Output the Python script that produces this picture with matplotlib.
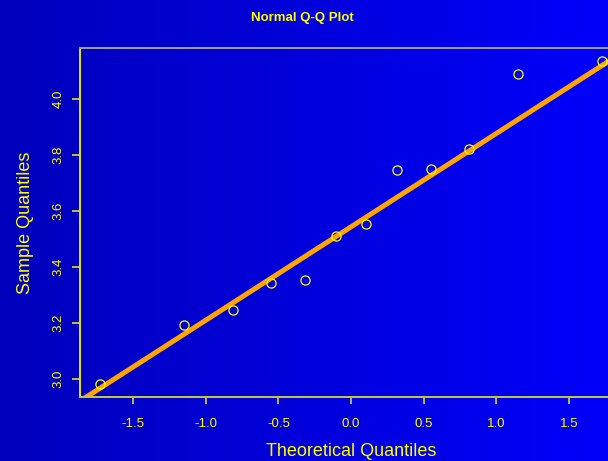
import numpy as np
import matplotlib
matplotlib.use("Agg")
import matplotlib.pyplot as plt

# theoretical normal quantiles (n = 12) and the observed sample values
theoretical = [-1.73, -1.15, -0.81, -0.55, -0.32, -0.10, 0.10, 0.32, 0.55, 0.81, 1.15, 1.73]
sample = [2.982, 3.192, 3.245, 3.342, 3.352, 3.510, 3.552, 3.745, 3.749, 3.821, 4.089, 4.134]
x_ticks = [-1.5, -1.0, -0.5, 0.0, 0.5, 1.0, 1.5]
y_ticks = [3.0, 3.2, 3.4, 3.6, 3.8, 4.0]

YELLOW = "#ffff00"
plt.rcParams["font.family"] = ["Liberation Sans", "DejaVu Sans"]

fig = plt.figure(figsize=(6.08, 4.61), dpi=100)

# horizontal blue gradient behind everything
bg = fig.add_axes([0, 0, 1, 1], zorder=0)
grad = np.linspace(0, 1, 256).reshape(1, -1)
cmap = matplotlib.colors.LinearSegmentedColormap.from_list("bg", ["#0000bc", "#0000fa"])
bg.imshow(grad, aspect="auto", cmap=cmap, extent=[0, 1, 0, 1])
bg.set_axis_off()

# plot region runs off the right edge like the reference
ax = fig.add_axes([79.5 / 608, 64 / 461, 543 / 608, 349 / 461], zorder=1)
ax.patch.set_alpha(0)

ax.plot(theoretical, sample, linestyle="none", marker="o", markersize=6.6,
        markerfacecolor="none", markeredgecolor=YELLOW, markeredgewidth=0.9, zorder=3)

# qqline through the first and third quartiles
q_y = np.quantile(sample, [0.25, 0.75])
q_x = np.array([-0.6745, 0.6745])
slope = (q_y[1] - q_y[0]) / (q_x[1] - q_x[0])
intercept = q_y[0] - slope * q_x[0]
ax.axline((0, intercept), slope=slope, color="#ffa500", linewidth=3.6, zorder=2)

# R style 4% padding
xr = max(theoretical) - min(theoretical)
yr = max(sample) - min(sample)
ax.set_xlim(min(theoretical) - 0.04 * xr, max(theoretical) + 0.04 * xr)
ax.set_ylim(min(sample) - 0.04 * yr, max(sample) + 0.04 * yr)

ax.set_xticks(x_ticks)
ax.set_xticklabels([f"{v:.1f}" for v in x_ticks])
ax.set_yticks(y_ticks)
ax.set_yticklabels([f"{v:.1f}" for v in y_ticks], rotation=90, va="center")

ax.tick_params(axis="x", colors="#d8d830", labelcolor=YELLOW, length=5, width=1.2,
               pad=10, labelsize=9.5)
ax.tick_params(axis="y", colors="#e0e020", labelcolor=YELLOW, length=6, width=1.2,
               pad=4.5, labelsize=9.5)

ax.spines["right"].set_visible(False)
ax.spines["top"].set_color("#a0a0a0")
ax.spines["left"].set_color("#e8e800")
ax.spines["bottom"].set_color("#c8c83c")
for s in ["top", "left", "bottom"]:
    ax.spines[s].set_linewidth(1.4)

ax.set_xlabel("Theoretical Quantiles", color=YELLOW, fontsize=13)
ax.xaxis.set_label_coords(0.5, -0.155)
ax.xaxis.label.set_verticalalignment("center")
ax.set_ylabel("Sample Quantiles", color=YELLOW, fontsize=13)
ax.yaxis.set_label_coords(-0.1, 0.5)
ax.yaxis.label.set_verticalalignment("center")

fig.text(302 / 608, 1 - 18 / 461, "Normal Q-Q Plot", color=YELLOW, fontsize=9.5,
         fontweight="bold", ha="center", va="center")

fig.savefig("out.png", dpi=100)
